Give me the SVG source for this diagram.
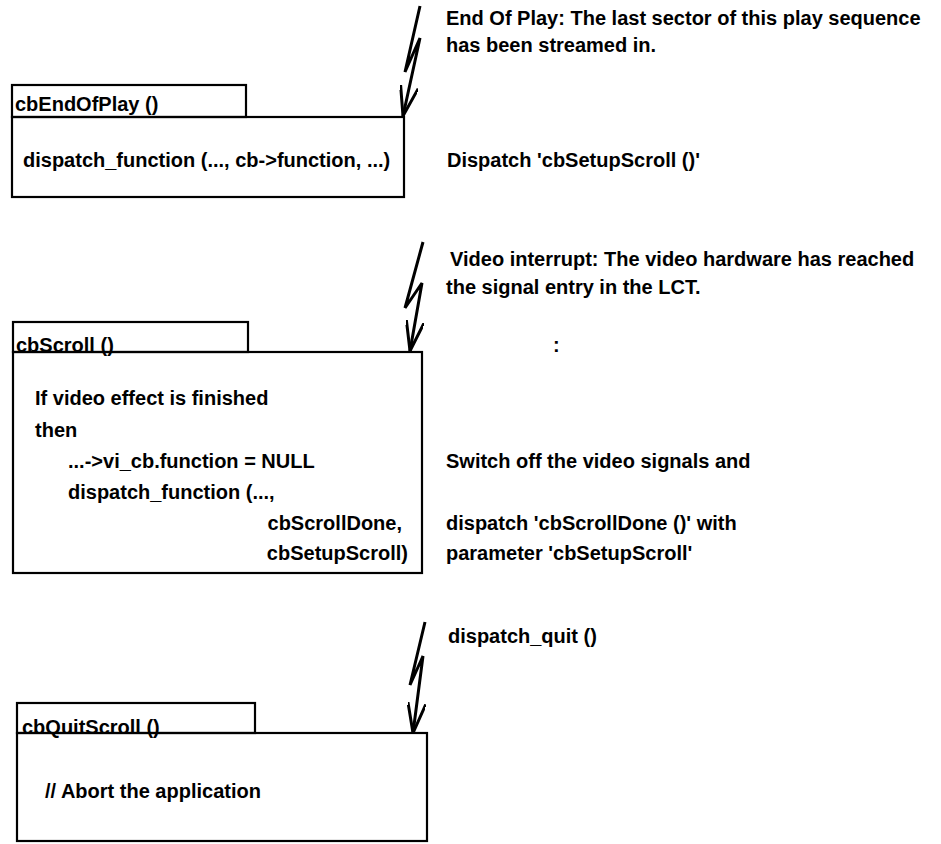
<svg xmlns="http://www.w3.org/2000/svg" width="941" height="844" viewBox="0 0 941 844">
<style>
  .box { fill: none; stroke: #000; stroke-width: 2.2; }
  .t { font-family: "Liberation Sans", Arial, sans-serif; font-weight: bold; font-size: 20px; fill: #000; }
  .r { text-anchor: end; }
  .bolt { fill: none; stroke: #000; stroke-width: 3; stroke-linejoin: miter; marker-end: url(#arr); }
</style>
<defs>
  <marker id="arr" viewBox="0 0 30 18" refX="30" refY="9" markerWidth="30" markerHeight="18" markerUnits="userSpaceOnUse" orient="auto">
    <path d="M0,0 L30,9 L0,18" fill="none" stroke="#000" stroke-width="3"/>
  </marker>
</defs>
<rect width="941" height="844" fill="#fff"/>

<g id="cbEndOfPlay">
  <rect class="box" x="12" y="85" width="234" height="32"/>
  <rect class="box" x="12" y="117" width="392" height="80"/>
  <text class="t" x="15" y="111">cbEndOfPlay ()</text>
  <text class="t" x="23" y="167">dispatch_function (..., cb-&gt;function, ...)</text>
</g>

<g id="cbScroll">
  <rect class="box" x="13" y="322" width="235" height="30"/>
  <rect class="box" x="13" y="352" width="409" height="221"/>
  <text class="t" x="16" y="352">cbScroll ()</text>
  <text class="t" x="35" y="405">If video effect is finished</text>
  <text class="t" x="35" y="437">then</text>
  <text class="t" x="68" y="468">...-&gt;vi_cb.function = NULL</text>
  <text class="t" x="68" y="499">dispatch_function (...,</text>
  <text class="t r" x="402" y="530">cbScrollDone,</text>
  <text class="t r" x="408" y="560">cbSetupScroll)</text>
</g>

<g id="cbQuitScroll">
  <rect class="box" x="17" y="703" width="238" height="30"/>
  <rect class="box" x="17" y="733" width="410" height="108"/>
  <text class="t" x="22" y="734">cbQuitScroll ()</text>
  <text class="t" x="45" y="798">// Abort the application</text>
</g>

<g id="notes">
  <text class="t" x="446" y="25">End Of Play: The last sector of this play sequence</text>
  <text class="t" x="446" y="52">has been streamed in.</text>
  <text class="t" x="447" y="167">Dispatch 'cbSetupScroll ()'</text>
  <text class="t" x="450" y="266">Video interrupt: The video hardware has reached</text>
  <text class="t" x="446" y="294">the signal entry in the LCT.</text>
  <text class="t" x="553" y="352">:</text>
  <text class="t" x="446" y="468">Switch off the video signals and</text>
  <text class="t" x="446" y="530">dispatch 'cbScrollDone ()'  with</text>
  <text class="t" x="446" y="560">parameter 'cbSetupScroll'</text>
  <text class="t" x="448" y="643">dispatch_quit ()</text>
</g>

<g id="connectors">
  <polyline class="bolt" points="420,6 405,72 420,38 403,116"/>
  <polyline class="bolt" points="423,242 405,308 422,283 410,351"/>
  <polyline class="bolt" points="425,622 410,685 423,656 413,733"/>
</g>
</svg>
